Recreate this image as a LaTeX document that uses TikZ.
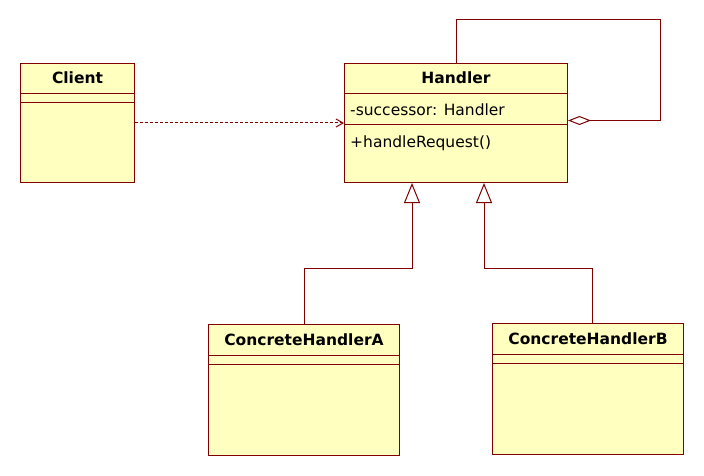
\documentclass[tikz,border=0pt]{standalone}
\usepackage{fontspec}
\setmainfont{DejaVu Sans}
\usepackage{tikz}
\usetikzlibrary{arrows.meta}
\definecolor{UmlLine}{HTML}{800000}
\definecolor{UmlFill}{HTML}{FFFFC0}

\begin{document}
\begin{tikzpicture}[
      x=1pt, y=-1pt,
      every node/.style={font=\fontsize{15.5}{18}\selectfont},
      classbox/.style={draw=UmlLine, fill=UmlFill, line width=1pt, anchor=north west, inner sep=0pt},
      classname/.style={anchor=base, inner sep=0pt, font=\fontsize{15.5}{18}\selectfont\bfseries},
      member/.style={anchor=base west, inner sep=0pt},
      sep/.style={draw=UmlLine, line width=1pt},
      dep/.style={UmlLine, line width=1pt, dash pattern=on 3pt off 2pt, -{Straight Barb[length=7pt,width=8pt]}},
      agg/.style={UmlLine, line width=1pt, -{Diamond[open, fill=white, length=23pt, width=9pt]}},
      inh/.style={UmlLine, line width=1pt, -{Triangle[open, fill=white, length=20pt, width=16pt]}}
    ]
      \useasboundingbox (0,0) rectangle (704,476);

      % class boxes
      \node[classbox, minimum width=114pt, minimum height=119pt] (client) at (20,63) {};
      \node[classbox, minimum width=223pt, minimum height=119pt] (handler) at (344,63) {};
      \node[classbox, minimum width=191pt, minimum height=131pt] (chA) at (208,324) {};
      \node[classbox, minimum width=191pt, minimum height=131pt] (chB) at (492,323) {};

      % compartments
      \foreach \n/\a/\b in {client/31/40, handler/31/62, chA/31/40, chB/31/40} {
        \draw[sep] ([yshift=-\a pt]\n.north west) -- ([yshift=-\a pt]\n.north east);
        \draw[sep] ([yshift=-\b pt]\n.north west) -- ([yshift=-\b pt]\n.north east);
      }

      % names and members
      \node[classname] (clientname) at ([yshift=-21pt]client.north) {Client};
      \node[classname] (handlername) at ([yshift=-21pt]handler.north) {Handler};
      \node[classname] (chAname) at ([yshift=-21pt]chA.north) {ConcreteHandlerA};
      \node[classname] (chBname) at ([yshift=-21pt]chB.north) {ConcreteHandlerB};
      \node[member] (successor) at ([xshift=6pt, yshift=-53pt]handler.north west) {-successor: Handler};
      \node[member] (request) at ([xshift=6pt, yshift=-84pt]handler.north west) {+handleRequest()};

      % relations
      \coordinate (loopcorner) at (660,20);
      \coordinate (elbowA) at (412,268);
      \coordinate (elbowB) at (484,268);

      \draw[dep] (client) -- (handler);
      \draw[agg] (handler.north) |- (loopcorner) |- ([yshift=2.5pt]handler.east);
      \draw[inh] (chA.north) |- (elbowA) -- (handler.south -| elbowA);
      \draw[inh] ([xshift=4.5pt]chB.north) |- (elbowB) -- (handler.south -| elbowB);

    \end{tikzpicture}
\end{document}
